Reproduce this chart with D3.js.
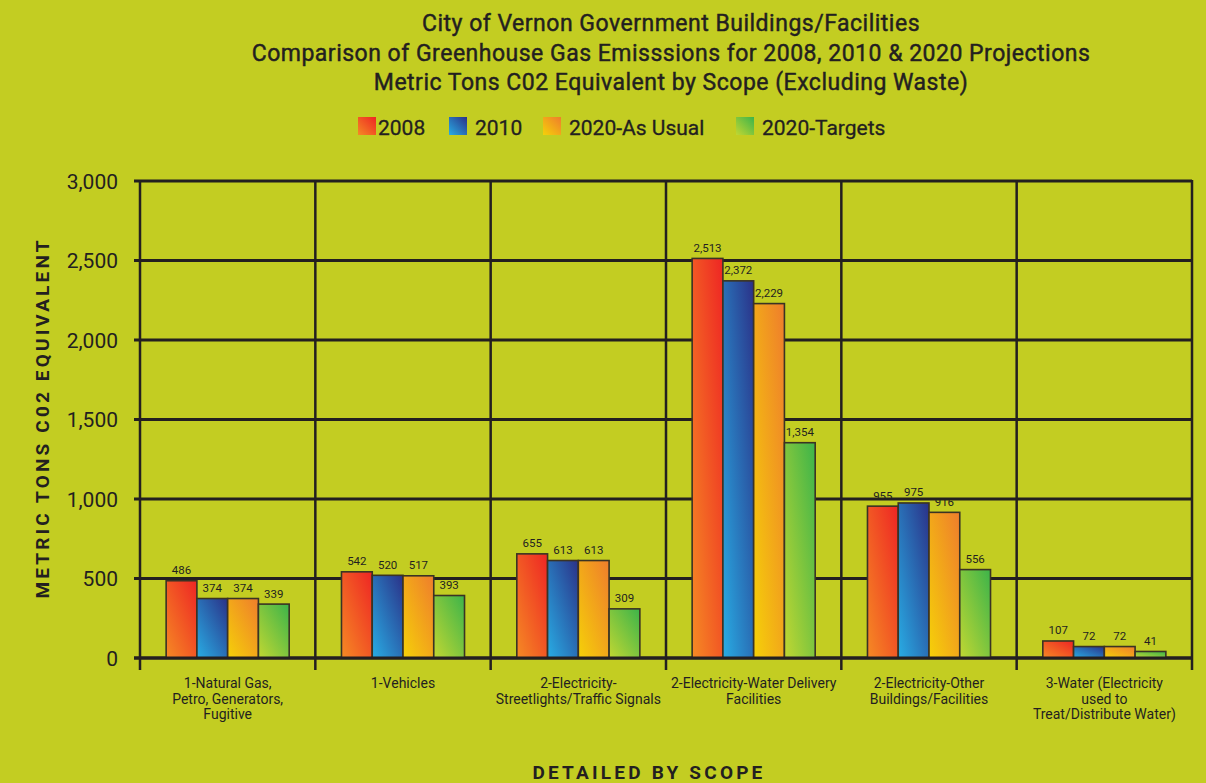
<!DOCTYPE html>
<html>
<head>
<meta charset="utf-8">
<script src="https://cdn.jsdelivr.net/npm/d3@7"></script>
<style>
  body { margin: 0; background: #c3cd22; }
  svg { display: block; font-family: Roboto, "Noto Sans", sans-serif; }
</style>
</head>
<body>
<div id="chart"></div>
<script>
// Chart data
const categories = [
    ['1-Natural Gas,', 'Petro, Generators,', 'Fugitive'],
    ['1-Vehicles'],
    ['2-Electricity-', 'Streetlights/Traffic Signals'],
    ['2-Electricity-Water Delivery', 'Facilities'],
    ['2-Electricity-Other', 'Buildings/Facilities'],
    ['3-Water (Electricity', 'used to', 'Treat/Distribute Water)']
];
const seriesNames = ['2008', '2010', '2020-As Usual', '2020-Targets'];
const values2008 = [486, 542, 655, 2513, 955, 107];
const values2010 = [374, 520, 613, 2372, 975, 72];
const values2020Usual = [374, 517, 613, 2229, 916, 72];
const values2020Targets = [339, 393, 309, 1354, 556, 41];
const yTicks = [0, 500, 1000, 1500, 2000, 2500, 3000];

const titleLines = [
    'City of Vernon Government Buildings/Facilities',
    'Comparison of Greenhouse Gas Emisssions for 2008, 2010 & 2020 Projections',
    'Metric Tons C02 Equivalent by Scope (Excluding Waste)'
];

function renderChart() {
    const width = 1206, height = 783;
    const margin = { top: 181, right: 14, bottom: 125, left: 140 };
    const innerW = width - margin.left - margin.right;
    const innerH = height - margin.top - margin.bottom;
    const ink = '#231f20';

    const svg = d3.select('#chart').append('svg')
        .attr('width', width)
        .attr('height', height);

    svg.append('rect').attr('width', width).attr('height', height).attr('fill', '#c3cd22');

    // gradients (top-right dark -> bottom-left light)
    const gradStops = [
        ['#ee2524', '#f58a24'],
        ['#2b3188', '#28ade4'],
        ['#ef7d2c', '#f5d108'],
        ['#3cb44a', '#c1d732']
    ];
    const defs = svg.append('defs');
    gradStops.forEach((s, i) => {
        const g = defs.append('linearGradient')
            .attr('id', 'grad' + i)
            .attr('x1', 1).attr('y1', 0).attr('x2', 0).attr('y2', 1);
        g.append('stop').attr('offset', '0%').attr('stop-color', s[0]);
        g.append('stop').attr('offset', '100%').attr('stop-color', s[1]);
    });

    // title (thin stroke to mimic the medium weight)
    svg.append('g').selectAll('text')
        .data(titleLines)
        .join('text')
        .attr('x', 671)
        .attr('y', (d, i) => 31 + i * 29.5)
        .attr('text-anchor', 'middle')
        .attr('fill', ink)
        .attr('stroke', ink)
        .attr('stroke-width', 0.45)
        .style('font-size', '23px')
        .style('letter-spacing', '0.5px')
        .text(d => d);

    // legend
    const legendX = [358, 449, 543, 736];
    const legend = svg.append('g');
    seriesNames.forEach((name, i) => {
        legend.append('rect')
            .attr('x', legendX[i]).attr('y', 117)
            .attr('width', 18).attr('height', 18)
            .attr('fill', `url(#grad${i})`);
        legend.append('text')
            .attr('x', legendX[i] + (i === 0 ? 20 : 26))
            .attr('y', 135)
            .attr('fill', ink)
            .attr('stroke', ink)
            .attr('stroke-width', 0.3)
            .style('font-size', '21px')
            .text(name);
    });

    const g = svg.append('g').attr('transform', `translate(${margin.left},${margin.top})`);

    const x0 = d3.scaleBand()
        .domain(d3.range(categories.length))
        .range([0, innerW]);

    const x1 = d3.scaleBand()
        .domain(d3.range(seriesNames.length))
        .range([0, x0.bandwidth()])
        .paddingOuter(0.85);

    const y = d3.scaleLinear()
        .domain([0, 3000])
        .range([innerH, 0]);

    // horizontal grid
    g.append('g').selectAll('line')
        .data(yTicks)
        .join('line')
        .attr('x1', -6).attr('x2', innerW)
        .attr('y1', d => y(d)).attr('y2', d => y(d))
        .attr('stroke', ink).attr('stroke-width', 3);

    // vertical separators
    g.append('g').selectAll('line')
        .data(d3.range(categories.length + 1))
        .join('line')
        .attr('x1', d => d * x0.step()).attr('x2', d => d * x0.step())
        .attr('y1', -1).attr('y2', innerH + 12)
        .attr('stroke', ink).attr('stroke-width', 2.5);

    // y tick labels
    g.append('g').selectAll('text')
        .data(yTicks)
        .join('text')
        .attr('x', -22)
        .attr('y', d => y(d) + 7.5)
        .attr('text-anchor', 'end')
        .attr('fill', ink)
        .style('font-size', '21px')
        .text(d => d3.format(',')(d));

    // bars
    const allSeries = [values2008, values2010, values2020Usual, values2020Targets];
    allSeries.forEach((vals, si) => {
        const sg = g.append('g');
        sg.selectAll('rect')
            .data(vals)
            .join('rect')
            .attr('x', (d, ci) => x0(ci) + x1(si))
            .attr('y', d => y(d))
            .attr('width', x1.bandwidth())
            .attr('height', d => innerH - y(d))
            .attr('fill', `url(#grad${si})`)
            .attr('stroke', '#3a3324')
            .attr('stroke-width', 1.6);
        sg.selectAll('text')
            .data(vals)
            .join('text')
            .attr('x', (d, ci) => x0(ci) + x1(si) + x1.bandwidth() / 2)
            .attr('y', d => y(d) - 6.5)
            .attr('text-anchor', 'middle')
            .attr('fill', ink)
            .style('font-size', '11.5px')
            .text(d => d3.format(',')(d));
    });

    // redraw baseline over bars
    g.append('line')
        .attr('x1', -6).attr('x2', innerW)
        .attr('y1', innerH).attr('y2', innerH)
        .attr('stroke', ink).attr('stroke-width', 3);

    // category labels
    const catG = g.append('g');
    categories.forEach((lines, ci) => {
        catG.append('text')
            .attr('text-anchor', 'middle')
            .attr('fill', ink)
            .style('font-size', '14px')
            .selectAll('tspan')
            .data(lines)
            .join('tspan')
            .attr('x', x0(ci) + x0.bandwidth() / 2)
            .attr('y', (d, i) => innerH + 30 + i * 15.5)
            .text(d => d);
    });

    // axis titles
    svg.append('text')
        .attr('transform', 'translate(49,418) rotate(-90)')
        .attr('text-anchor', 'middle')
        .attr('fill', ink)
        .style('font-size', '19px')
        .style('font-weight', 'bold')
        .style('letter-spacing', '3.15px')
        .text('METRIC TONS C02 EQUIVALENT');

    svg.append('text')
        .attr('x', 649)
        .attr('y', 779)
        .attr('text-anchor', 'middle')
        .attr('fill', ink)
        .style('font-size', '19px')
        .style('font-weight', 'bold')
        .style('letter-spacing', '3.2px')
        .text('DETAILED BY SCOPE');
}

renderChart();
</script>
</body>
</html>
